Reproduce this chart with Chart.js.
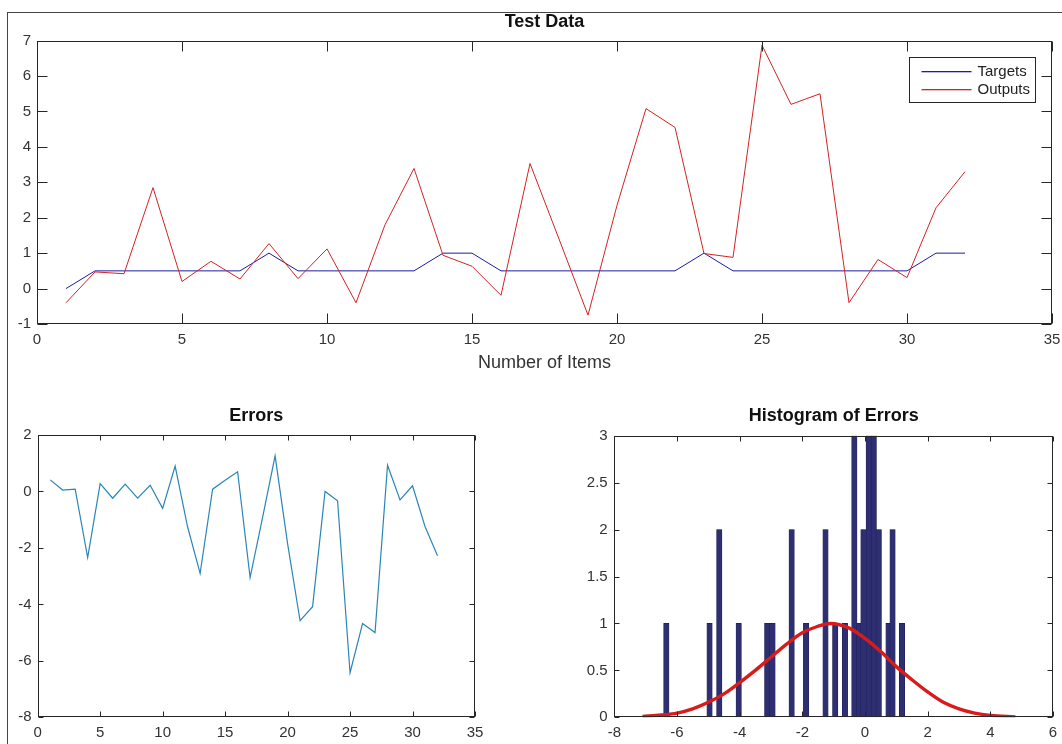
<!DOCTYPE html>
<html><head><meta charset="utf-8">
<script src="https://cdn.jsdelivr.net/npm/chart.js@4/dist/chart.umd.min.js"></script>
<style>
html,body{margin:0;padding:0;background:#fff;width:1062px;height:744px;overflow:hidden;position:relative}
canvas{position:absolute}
#frame{position:absolute;left:7px;top:12px;right:0;bottom:0;border-left:1px solid #444;border-top:1px solid #444}
</style></head><body>
<div id="frame"></div>
<canvas id="topChart" width="1062" height="380" style="left:0;top:0"></canvas>
<canvas id="errChart" width="531" height="364" style="left:0;top:380px"></canvas>
<canvas id="histChart" width="531" height="364" style="left:531px;top:380px"></canvas>
<script>
// ---- data ----
const items = [1,2,3,4,5,6,7,8,9,10,11,12,13,14,15,16,17,18,19,20,21,22,23,24,25,26,27,28,29,30,31,32];
const targets = [0,0.5,0.5,0.5,0.5,0.5,0.5,1,0.5,0.5,0.5,0.5,0.5,1,1,0.5,0.5,0.5,0.5,0.5,0.5,0.5,1,0.5,0.5,0.5,0.5,0.5,0.5,0.5,1,1];
const outputs = [-0.4,0.47,0.42,2.85,0.2,0.77,0.27,1.27,0.28,1.12,-0.4,1.8,3.39,0.94,0.63,-0.19,3.53,1.4,-0.75,2.35,5.08,4.55,0.99,0.88,6.87,5.2,5.5,-0.4,0.82,0.31,2.28,3.3];
const errors = [0.41,0.05,0.08,-2.34,0.28,-0.24,0.26,-0.24,0.22,-0.6,0.9,-1.26,-2.9,0.08,0.4,0.7,-3.05,-0.92,1.26,-1.85,-4.58,-4.08,0,-0.33,-6.42,-4.68,-5.0,0.93,-0.3,0.2,-1.24,-2.28];
const binCenters = [-6.34,-4.96,-4.65,-4.03,-3.12,-2.95,-2.34,-1.88,-1.26,-0.95,-0.64,-0.34,-0.18,-0.05,0.12,0.28,0.44,0.75,0.88,1.18];
const binCounts = [1,1,2,1,1,1,2,1,2,1,1,3,1,2,3,3,2,1,2,1];
const fitX = [-7.1,-6.5,-6,-5.5,-5,-4.5,-4,-3.5,-3,-2.5,-2,-1.5,-1.1,-0.5,0,0.5,1,1.5,2,2.5,3,3.5,4,4.8];
const fitY = [0.008,0.025,0.045,0.09,0.16,0.25,0.37,0.5,0.64,0.78,0.9,0.97,1.0,0.95,0.84,0.7,0.54,0.4,0.27,0.16,0.09,0.045,0.02,0.005];

const TARGET_COLOR = '#1c1ca8';
const OUTPUT_COLOR = '#d42222';
const FONT = "'Liberation Sans', Arial, Helvetica, sans-serif";
Chart.defaults.font.family = FONT;
Chart.defaults.color = '#333';
Chart.defaults.animation = false;

// axes box with inward tick marks (MATLAB style) + optional legend
const boxPlugin = {
  id: 'box',
  afterDraw(chart, args, opts) {
    const {ctx, chartArea: a} = chart;
    const L = opts.len || 5;
    const l = Math.round(a.left) + 0.5, r = Math.round(a.right) - 0.5;
    const t = Math.round(a.top) + 0.5, b = Math.round(a.bottom) - 0.5;
    ctx.save();
    ctx.strokeStyle = '#262626';
    ctx.lineWidth = 1;
    ctx.strokeRect(l, t, r - l, b - t);
    ctx.beginPath();
    const xs = chart.scales.x, ys = chart.scales.y;
    xs.ticks.forEach(tk => {
      const p = Math.round(xs.getPixelForValue(tk.value)) + 0.5;
      ctx.moveTo(p, b); ctx.lineTo(p, b - L);
      ctx.moveTo(p, t); ctx.lineTo(p, t + L);
    });
    ys.ticks.forEach(tk => {
      const p = Math.round(ys.getPixelForValue(tk.value)) + 0.5;
      ctx.moveTo(l, p); ctx.lineTo(l + L, p);
      ctx.moveTo(r, p); ctx.lineTo(r - L, p);
    });
    ctx.stroke();
    if (opts.legend) {
      const w = 126, h = 45;
      const bx = Math.round(a.right - 143) + 0.5, by = Math.round(a.top + 16) + 0.5;
      ctx.fillStyle = '#fff';
      ctx.fillRect(bx, by, w, h);
      ctx.strokeStyle = '#262626';
      ctx.strokeRect(bx, by, w, h);
      ctx.font = '15px ' + FONT;
      ctx.textBaseline = 'middle';
      ctx.textAlign = 'left';
      const cols = [TARGET_COLOR, OUTPUT_COLOR];
      chart.data.datasets.forEach((ds, i) => {
        const y = Math.round(by + 13 + i * 18);
        ctx.fillStyle = cols[i];
        ctx.fillRect(bx + 12, y, 50, 1.3);
        ctx.fillStyle = '#222';
        ctx.fillText(ds.label, bx + 68, y + 0.5);
      });
    }
    ctx.restore();
  }
};

const noGrid = {display: false, drawTicks: false};
const tickFont = {size: 15};
const fixX = h => function (s) { s.height = h; s.paddingLeft = 0; s.paddingRight = 0; };
const fixY = w => function (s) { s.width = w; s.paddingTop = 0; s.paddingBottom = 0; };
const plainNum = v => String(+Number(v).toFixed(2));

// ---- Test Data ----
new Chart(document.getElementById('topChart'), {
  type: 'line',
  data: {datasets: [
    {label: 'Targets', data: items.map((x, i) => ({x, y: targets[i]})), borderColor: TARGET_COLOR, borderWidth: 1, pointRadius: 0, tension: 0, order: 1},
    {label: 'Outputs', data: items.map((x, i) => ({x, y: outputs[i]})), borderColor: OUTPUT_COLOR, borderWidth: 1, pointRadius: 0, tension: 0, order: 0}
  ]},
  options: {
    responsive: false, animation: false,
    layout: {padding: {left: 0, right: 10, top: 0, bottom: 0}},
    plugins: {
      legend: {display: false}, tooltip: {enabled: false},
      title: {display: true, text: 'Test Data', fullSize: false, color: '#111', font: {size: 18, weight: 'bold'}, padding: {top: 11, bottom: 8}},
      box: {len: 10, legend: true}
    },
    scales: {
      x: {type: 'linear', min: 0, max: 35, ticks: {stepSize: 5, padding: 7, font: tickFont, color: '#333', callback: plainNum},
          grid: noGrid, border: {display: false},
          title: {display: true, text: 'Number of Items', font: {size: 18}, color: '#333', padding: {top: 0, bottom: 6}},
          afterFit: fixX(56)},
      y: {type: 'linear', min: -1, max: 7, ticks: {stepSize: 1, padding: 6, font: tickFont, color: '#333', callback: plainNum},
          grid: noGrid, border: {display: false},
          afterFit: fixY(37)}
    }
  },
  plugins: [boxPlugin]
});

// ---- Errors ----
new Chart(document.getElementById('errChart'), {
  type: 'line',
  data: {datasets: [
    {label: 'Errors', data: items.map((x, i) => ({x, y: errors[i]})), borderColor: '#2a86b6', borderWidth: 1.2, pointRadius: 0, tension: 0}
  ]},
  options: {
    responsive: false, animation: false,
    layout: {padding: {left: 0, right: 56, top: 0, bottom: 0}},
    plugins: {
      legend: {display: false}, tooltip: {enabled: false},
      title: {display: true, text: 'Errors', fullSize: false, color: '#111', font: {size: 18, weight: 'bold'}, padding: {top: 25.7, bottom: 7.7}},
      box: {len: 5}
    },
    scales: {
      x: {type: 'linear', min: 0, max: 35, ticks: {stepSize: 5, padding: 7, font: tickFont, color: '#333', callback: plainNum},
          grid: noGrid, border: {display: false},
          afterFit: fixX(26.7)},
      y: {type: 'linear', min: -8, max: 2, ticks: {stepSize: 2, padding: 6, font: tickFont, color: '#333', callback: plainNum},
          grid: noGrid, border: {display: false},
          afterFit: fixY(37.7)}
    }
  },
  plugins: [boxPlugin]
});

// ---- Histogram of Errors ----
new Chart(document.getElementById('histChart'), {
  type: 'bar',
  data: {datasets: [
    {type: 'line', label: 'Fit', data: fitX.map((x, i) => ({x, y: fitY[i]})), borderColor: '#d81c1c', borderWidth: 3.4, pointRadius: 0, cubicInterpolationMode: 'monotone', order: 0},
    {type: 'bar', label: 'Errors', data: binCenters.map((x, i) => ({x, y: binCounts[i]})), backgroundColor: '#2e2e72', borderColor: '#1e1e52', borderWidth: 0.6, barThickness: 5.4, grouped: false, order: 1}
  ]},
  options: {
    responsive: false, animation: false,
    layout: {padding: {left: 0, right: 9, top: 0, bottom: 0}},
    plugins: {
      legend: {display: false}, tooltip: {enabled: false},
      title: {display: true, text: 'Histogram of Errors', fullSize: false, color: '#111', font: {size: 18, weight: 'bold'}, padding: {top: 25.7, bottom: 8.4}},
      box: {len: 5}
    },
    scales: {
      x: {type: 'linear', offset: false, min: -8, max: 6, ticks: {stepSize: 2, padding: 7, font: tickFont, color: '#333', callback: plainNum},
          grid: noGrid, border: {display: false},
          afterFit: fixX(26.7)},
      y: {type: 'linear', min: 0, max: 3, ticks: {stepSize: 0.5, padding: 6.6, font: tickFont, color: '#333', callback: plainNum},
          grid: noGrid, border: {display: false},
          afterFit: fixY(83.3)}
    }
  },
  plugins: [boxPlugin]
});
</script>
</body></html>
